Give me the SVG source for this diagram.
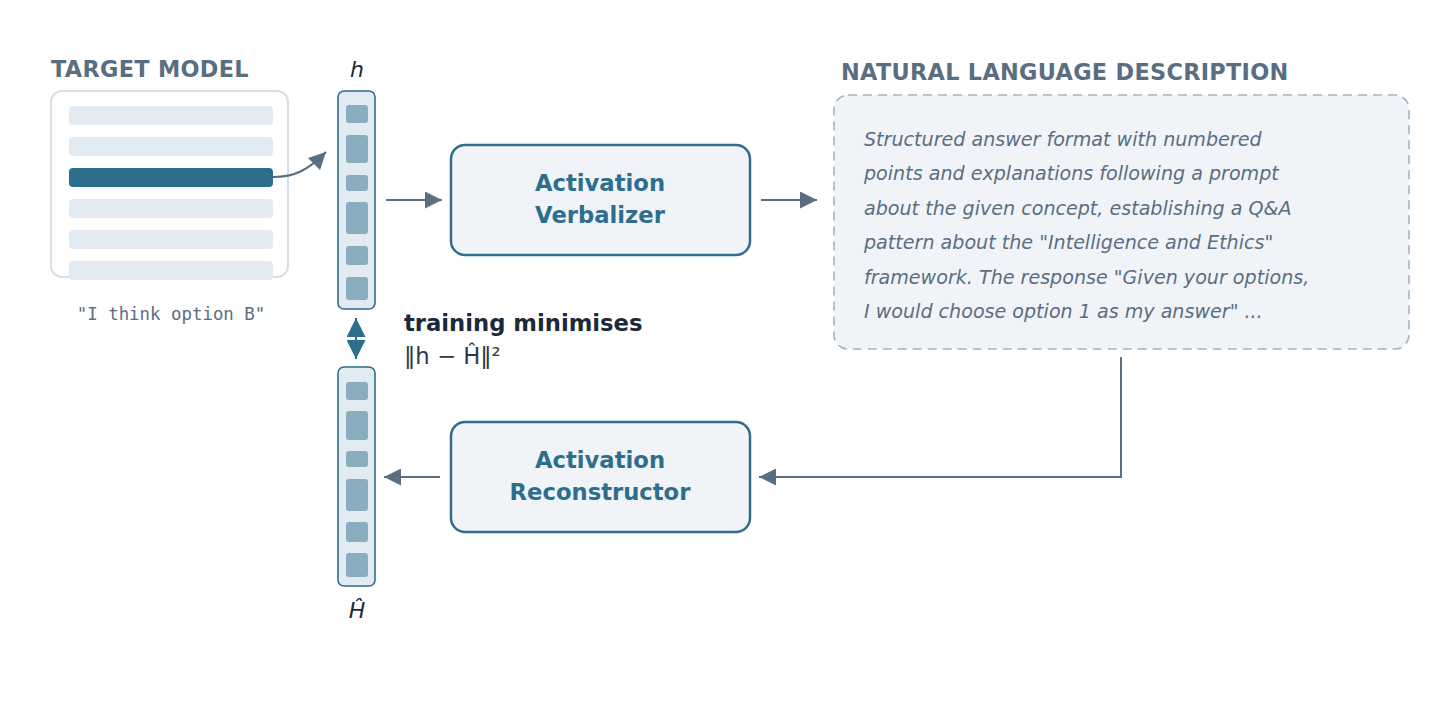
<svg xmlns="http://www.w3.org/2000/svg" width="1456" height="728" viewBox="0 0 1456 728">
<style>
.title{font-family:"DejaVu Sans",sans-serif;font-weight:bold;font-size:22.4px;fill:#5a6e82;letter-spacing:0.3px}
.row{fill:#e3ebf2}
.vec{fill:#e3ebf2;stroke:#2d6e8c;stroke-width:1.6}
.cell{fill:#8aaebe}
.box{fill:#f0f4f8;stroke:#2d6e8c;stroke-width:2.5}
.boxt{font-family:"DejaVu Sans",sans-serif;font-weight:bold;font-size:22.7px;fill:#2d6e8c;text-anchor:middle}
.desc{font-family:"DejaVu Sans",sans-serif;font-style:italic;font-size:19.1px;fill:#5a6e82}
.conn{fill:none;stroke:#5a6e82;stroke-width:2}
.lab{font-family:"DejaVu Sans",sans-serif;font-style:italic;font-size:22px;fill:#1a2a3a;text-anchor:middle}
</style>
<defs>
<marker id="ah2" viewBox="0 0 10 10" refX="10" refY="5" markerWidth="17" markerHeight="17" markerUnits="userSpaceOnUse" orient="auto"><path d="M0,0L10,5L0,10z" fill="#5a6e82"/></marker>
<marker id="dh" viewBox="0 0 10 10" refX="10" refY="5" markerWidth="19" markerHeight="19" markerUnits="userSpaceOnUse" orient="auto"><path d="M0,0L10,5L0,10z" fill="#2d6e8c"/></marker>
</defs>
<rect width="1456" height="728" fill="#fff"/>

<g id="target-model">
<text class="title" x="51" y="77">TARGET MODEL</text>
<rect x="51" y="91" width="237" height="186" rx="11" fill="#fff" stroke="#d5e0e8" stroke-width="2"/>
<rect class="row" x="69" y="106" width="204" height="19" rx="4"/>
<rect class="row" x="69" y="137" width="204" height="19" rx="4"/>
<rect x="69" y="168" width="204" height="19" rx="4" fill="#2d6e8c"/>
<rect class="row" x="69" y="199" width="204" height="19" rx="4"/>
<rect class="row" x="69" y="230" width="204" height="19" rx="4"/>
<rect class="row" x="69" y="261" width="204" height="19" rx="4"/>
<text x="171" y="320" text-anchor="middle" font-family="'DejaVu Sans Mono',monospace" font-size="17.4" fill="#5a6e82">"I think option B"</text>
</g>

<g id="h-vector">
<text class="lab" x="357" y="77">h</text>
<rect class="vec" x="338" y="91" width="37" height="218" rx="6"/>
<rect class="cell" x="346" y="105" width="22" height="18" rx="3"/>
<rect class="cell" x="346" y="135" width="22" height="28" rx="3"/>
<rect class="cell" x="346" y="175" width="22" height="16" rx="3"/>
<rect class="cell" x="346" y="202" width="22" height="32" rx="3"/>
<rect class="cell" x="346" y="246" width="22" height="19" rx="3"/>
<rect class="cell" x="346" y="277" width="22" height="23" rx="3"/>
</g>

<g id="h-hat-vector">
<rect class="vec" x="338" y="367" width="37" height="219" rx="6"/>
<rect class="cell" x="346" y="382" width="22" height="18" rx="3"/>
<rect class="cell" x="346" y="411" width="22" height="29" rx="3"/>
<rect class="cell" x="346" y="451" width="22" height="16" rx="3"/>
<rect class="cell" x="346" y="479" width="22" height="32" rx="3"/>
<rect class="cell" x="346" y="522" width="22" height="20" rx="3"/>
<rect class="cell" x="346" y="553" width="22" height="24" rx="3"/>
<text class="lab" x="357" y="618">Ĥ</text>
</g>

<g id="verbalizer">
<rect class="box" x="451" y="145" width="299" height="110" rx="14"/>
<text class="boxt" x="600" y="191">Activation</text>
<text class="boxt" x="600" y="223">Verbalizer</text>
</g>

<g id="reconstructor">
<rect class="box" x="451" y="422" width="299" height="110" rx="14"/>
<text class="boxt" x="600" y="468">Activation</text>
<text class="boxt" x="600" y="500">Reconstructor</text>
</g>

<g id="description">
<text class="title" x="841" y="80">NATURAL LANGUAGE DESCRIPTION</text>
<rect x="834" y="95" width="575" height="254" rx="14" fill="#f0f4f8" stroke="#a0b4c4" stroke-width="1.6" stroke-dasharray="9,6"/>
<text class="desc" x="864" y="146">Structured answer format with numbered</text>
<text class="desc" x="864" y="180">points and explanations following a prompt</text>
<text class="desc" x="864" y="215">about the given concept, establishing a Q&amp;A</text>
<text class="desc" x="864" y="249">pattern about the "Intelligence and Ethics"</text>
<text class="desc" x="864" y="284">framework. The response "Given your options,</text>
<text class="desc" x="864" y="318">I would choose option 1 as my answer" ...</text>
</g>

<g id="loss">
<text x="404" y="331" font-family="'DejaVu Sans',sans-serif" font-weight="bold" font-size="22.7" fill="#1a2a3a">training minimises</text>
<text x="404" y="364" font-family="'DejaVu Sans',sans-serif" font-size="22.7" fill="#2a3a4a">‖h − Ĥ‖²</text>
</g>

<g id="connectors">
<path class="conn" d="M273,177 C295,177 308,170 326,152" marker-end="url(#ah2)"/>
<path class="conn" d="M386,200 H442" marker-end="url(#ah2)"/>
<path class="conn" d="M761,200 H817" marker-end="url(#ah2)"/>
<path class="conn" d="M1121,357 V477 H759" marker-end="url(#ah2)"/>
<path class="conn" d="M440,477 H384" marker-end="url(#ah2)"/>
<path fill="none" stroke="#2d6e8c" stroke-width="2" d="M356,338 V318" marker-end="url(#dh)"/>
<path fill="none" stroke="#2d6e8c" stroke-width="2" d="M356,338 V359" marker-end="url(#dh)"/>
</g>
</svg>
